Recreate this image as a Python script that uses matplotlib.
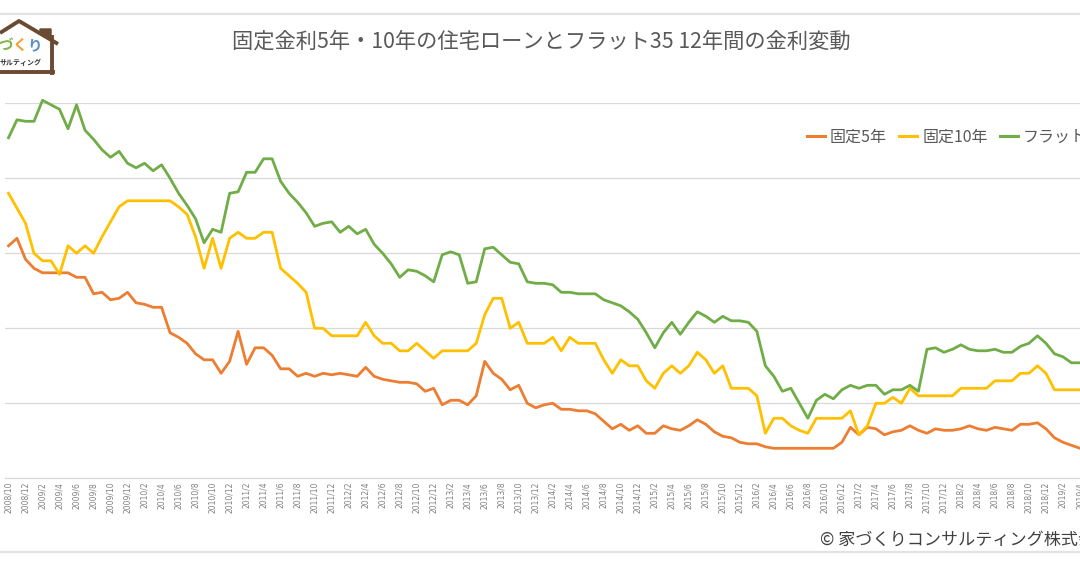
import matplotlib
matplotlib.use("Agg")
import matplotlib.pyplot as plt
from matplotlib.patches import Polygon
import pandas as pd
import numpy as np

plt.rcParams['font.family'] = ['Noto Sans CJK JP', 'DejaVu Sans']

# ---------------- data ----------------
title = "固定金利5年・10年の住宅ローンとフラット35 12年間の金利変動"
series_names = ["固定5年", "固定10年", "フラット35"]
months = [f"{p.year}/{p.month}" for p in pd.period_range("2008-10", "2019-04", freq="M")]

fixed5 = [2.05, 2.10, 1.96, 1.90, 1.87, 1.87, 1.87, 1.87, 1.84, 1.84,
          1.73, 1.74, 1.69, 1.70, 1.74, 1.67, 1.66, 1.64, 1.64, 1.47,
          1.44, 1.40, 1.33, 1.29, 1.29, 1.20, 1.28, 1.48, 1.26, 1.37,
          1.37, 1.32, 1.23, 1.23, 1.18, 1.20, 1.18, 1.20, 1.19, 1.20,
          1.19, 1.18, 1.24, 1.18, 1.16, 1.15, 1.14, 1.14, 1.13, 1.08,
          1.10, 0.99, 1.02, 1.02, 0.99, 1.05, 1.28, 1.20, 1.16, 1.09,
          1.12, 1.00, 0.97, 0.99, 1.00, 0.96, 0.96, 0.95, 0.95, 0.93,
          0.88, 0.83, 0.86, 0.82, 0.85, 0.80, 0.80, 0.85, 0.83, 0.82,
          0.85, 0.89, 0.86, 0.81, 0.78, 0.77, 0.74, 0.73, 0.73, 0.71,
          0.70, 0.70, 0.70, 0.70, 0.70, 0.70, 0.70, 0.70, 0.74, 0.84,
          0.79, 0.84, 0.83, 0.79, 0.81, 0.82, 0.85, 0.82, 0.80, 0.83,
          0.82, 0.82, 0.83, 0.85, 0.83, 0.82, 0.84, 0.83, 0.82, 0.86,
          0.86, 0.87, 0.83, 0.77, 0.74, 0.72, 0.70]

fixed10 = [2.40, 2.30, 2.20, 2.00, 1.95, 1.95, 1.86, 2.05, 2.00, 2.05,
           2.00, 2.11, 2.21, 2.31, 2.35, 2.35, 2.35, 2.35, 2.35, 2.35,
           2.31, 2.26, 2.11, 1.90, 2.10, 1.90, 2.10, 2.14, 2.10, 2.10,
           2.14, 2.14, 1.90, 1.85, 1.80, 1.74, 1.50, 1.50, 1.45, 1.45,
           1.45, 1.45, 1.54, 1.45, 1.40, 1.40, 1.35, 1.35, 1.40, 1.35,
           1.30, 1.35, 1.35, 1.35, 1.35, 1.40, 1.59, 1.70, 1.70, 1.50,
           1.54, 1.40, 1.40, 1.40, 1.44, 1.35, 1.44, 1.40, 1.40, 1.40,
           1.29, 1.20, 1.29, 1.25, 1.25, 1.15, 1.10, 1.20, 1.25, 1.20,
           1.25, 1.34, 1.29, 1.20, 1.25, 1.10, 1.10, 1.10, 1.05, 0.80,
           0.90, 0.90, 0.85, 0.82, 0.80, 0.90, 0.90, 0.90, 0.90, 0.95,
           0.79, 0.85, 1.00, 1.00, 1.04, 1.00, 1.10, 1.05, 1.05, 1.05,
           1.05, 1.05, 1.10, 1.10, 1.10, 1.10, 1.15, 1.15, 1.15, 1.20,
           1.20, 1.25, 1.20, 1.09, 1.09, 1.09, 1.09]

flat35 = [2.77, 2.89, 2.88, 2.88, 3.02, 2.99, 2.96, 2.83, 2.99, 2.82,
          2.76, 2.69, 2.64, 2.68, 2.60, 2.57, 2.60, 2.55, 2.59, 2.50,
          2.40, 2.32, 2.23, 2.07, 2.16, 2.14, 2.40, 2.41, 2.54, 2.54,
          2.63, 2.63, 2.48, 2.40, 2.34, 2.27, 2.18, 2.20, 2.21, 2.14,
          2.18, 2.13, 2.16, 2.06, 2.00, 1.93, 1.84, 1.89, 1.88, 1.85,
          1.81, 1.99, 2.01, 1.99, 1.80, 1.81, 2.03, 2.04, 1.99, 1.94,
          1.93, 1.81, 1.80, 1.80, 1.79, 1.74, 1.74, 1.73, 1.73, 1.73,
          1.69, 1.67, 1.65, 1.61, 1.56, 1.47, 1.37, 1.47, 1.54, 1.46,
          1.54, 1.61, 1.58, 1.54, 1.58, 1.55, 1.55, 1.54, 1.48, 1.25,
          1.18, 1.08, 1.10, 1.00, 0.90, 1.02, 1.06, 1.03, 1.09, 1.12,
          1.10, 1.12, 1.12, 1.06, 1.09, 1.09, 1.12, 1.08, 1.36, 1.37,
          1.34, 1.36, 1.39, 1.36, 1.35, 1.35, 1.36, 1.34, 1.34, 1.38,
          1.40, 1.45, 1.40, 1.33, 1.31, 1.27, 1.27]

colors = ["#ED7D31", "#FFC000", "#70AD47"]
y_ticks = [0.5, 1.0, 1.5, 2.0, 2.5, 3.0]
credit = "© 家づくりコンサルティング株式会社"

# ---------------- figure ----------------
W, H = 1080, 565
fig = plt.figure(figsize=(W / 100, H / 100), dpi=100)
fig.patch.set_facecolor("white")

# overlay in pixel coordinates for decorations
deco = fig.add_axes([0, 0, 1, 1], zorder=0)
deco.set_xlim(0, W)
deco.set_ylim(H, 0)
deco.axis("off")

# chart-area border lines
deco.plot([0, W], [14, 14], color="#e3e3e3", lw=1.6)
deco.plot([0, W], [552, 552], color="#e3e3e3", lw=1.6)

# logo (partial house)
brown = "#6b4a32"
deco.plot([0, 19, 58], [33, 21, 44], color=brown, lw=2.8, solid_capstyle="butt")
deco.add_patch(Polygon([[40, 29], [51, 29], [51, 38], [40, 31]], closed=True,
                       facecolor=brown, edgecolor=brown))
deco.plot([52, 52], [37, 73], color=brown, lw=2.8)
deco.plot([0, 53], [72, 72], color=brown, lw=2.8)
deco.text(-2, 45, "づ", color="#7ab648", fontsize=10.5, fontweight="bold", va="center", ha="left")
deco.text(13, 45, "く", color="#f0a030", fontsize=10.5, fontweight="bold", va="center", ha="left")
deco.text(27, 45, "り", color="#5b8cc8", fontsize=10.5, fontweight="bold", va="center", ha="left")
deco.text(0, 62, "サルティング", color="#333333", fontsize=5, fontweight="bold", va="center", ha="left")

# title and credit
deco.text(541, 42, title, fontsize=15.3, color="#595959", ha="center", va="center")
deco.text(820, 540, credit, fontsize=12.3, color="#404040", ha="left", va="center")

# main axes
x = np.arange(len(months))
x0_px, dx_px = 8.5, 8.506
left_px, right_px = 5, W
top_px, bot_px = 103.3, 478.3
ax = fig.add_axes([left_px / W, 1 - bot_px / H, (right_px - left_px) / W, (bot_px - top_px) / H],
                  zorder=1)
ax.patch.set_alpha(0)
ax.set_xlim((left_px - x0_px) / dx_px, (right_px - x0_px) / dx_px)
ax.set_ylim(y_ticks[0], y_ticks[-1])

for vals, c, name in zip([fixed5, fixed10, flat35], colors, series_names):
    ax.plot(x, vals, color=c, lw=2.0, label=name, clip_on=False, solid_joinstyle="round")

ax.set_yticks(y_ticks)
ax.yaxis.grid(True, color="#d9d9d9", lw=0.9)
ax.set_axisbelow(True)
ax.tick_params(axis="y", left=False, labelleft=False)
ax.set_xticks(x[::2])
ax.set_xticklabels(months[::2], rotation=90, fontsize=5.5, color="#808080",
                   family=["DejaVu Sans"])
ax.tick_params(axis="x", length=0, pad=2.5)
for s in ["top", "right", "left"]:
    ax.spines[s].set_visible(False)
ax.spines["bottom"].set_color("#d9d9d9")
ax.spines["bottom"].set_linewidth(0.9)

leg = fig.legend(loc="center left", bbox_to_anchor=(807 / W, 1 - 137 / H), ncol=3,
                 frameon=False, fontsize=11.5, handlelength=1.12, handletextpad=0.3,
                 columnspacing=0.8, borderpad=0, borderaxespad=0)
for t in leg.get_texts():
    t.set_color("#595959")
for h in leg.legend_handles:
    h.set_linewidth(2.2)

fig.savefig("out.png", dpi=100, facecolor="white")
